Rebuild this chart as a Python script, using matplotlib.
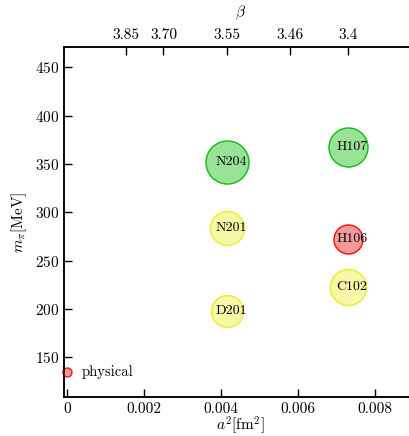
import matplotlib
matplotlib.use("Agg")
import matplotlib.pyplot as plt
import numpy as np

plt.rcParams['font.family'] = 'serif'
plt.rcParams['font.serif'] = ['cmr10']
plt.rcParams['mathtext.fontset'] = 'cm'
plt.rcParams['axes.unicode_minus'] = False
plt.rcParams['axes.formatter.use_mathtext'] = True

# ensembles
nomi = ['N204', 'H107', 'N201', 'D201', 'H106', 'C102']
a2 = [0.00415, 0.00729, 0.00415, 0.00415, 0.00729, 0.00729]
mpi = [352, 368, 284, 198, 272, 223]
diametri = [43, 39, 34, 32, 29, 36]  # px
colori = ['green', 'green', 'yellow', 'yellow', 'red', 'yellow']

fisico_a2 = 0.0
fisico_mpi = 135

beta_pos = [0.00152, 0.0025, 0.00415, 0.00578, 0.00729]
beta_lab = ['3.85', '3.70', '3.55', '3.46', '3.4']

riempi = {'green': '#99e399', 'yellow': '#f7f7a6', 'red': '#f59a9a'}
bordo = {'green': '#1ebd1e', 'yellow': '#ecec3a', 'red': '#ee1c1c'}

dpi = 100
fig = plt.figure(figsize=(4.10, 4.36), dpi=dpi)
ax = fig.add_axes([0.156, 0.0894, 0.86, 0.803])

for n, x, y, d, c in zip(nomi, a2, mpi, diametri, colori):
    s = (d * 72 / dpi) ** 2
    ax.scatter([x], [y], s=s, c=riempi[c], edgecolors=bordo[c], linewidths=1.1, zorder=2)
    ax.annotate(n, (x, y), xytext=(3, 0), textcoords='offset points',
                ha='center', va='center', fontsize=10, zorder=3)

ax.scatter([fisico_a2], [fisico_mpi], s=(9 * 0.72) ** 2, c=riempi['red'],
           edgecolors=bordo['red'], linewidths=1.0, zorder=3, clip_on=False)
ax.annotate('physical', (fisico_a2, fisico_mpi), xytext=(10, 0), textcoords='offset points',
            ha='left', va='center', fontsize=10.5)

ax.set_xlim(-0.000086, 0.00908)
ax.set_ylim(109, 471)
ax.set_xticks([0, 0.002, 0.004, 0.006, 0.008])
ax.set_xticklabels(['0', '0.002', '0.004', '0.006', '0.008'])
ax.set_yticks([150, 200, 250, 300, 350, 400, 450])
ax.tick_params(direction='in', length=6, width=1, labelsize=11, top=False, right=False)
ax.set_xlabel(r'$a^2$[fm$^2$]', fontsize=11, labelpad=-1)
ax.set_ylabel(r'$m_\pi$[MeV]', fontsize=11, labelpad=4)
for sp in ax.spines.values():
    sp.set_linewidth(1.1)

ax2 = ax.twiny()
ax2.set_xlim(ax.get_xlim())
ax2.set_xticks(beta_pos)
ax2.set_xticklabels(beta_lab)
ax2.tick_params(direction='in', length=6, width=1, labelsize=11)
ax2.set_xlabel(r'$\beta$', fontsize=11, labelpad=9)
for sp in ax2.spines.values():
    sp.set_linewidth(1.1)

fig.savefig('out.png', dpi=dpi)
